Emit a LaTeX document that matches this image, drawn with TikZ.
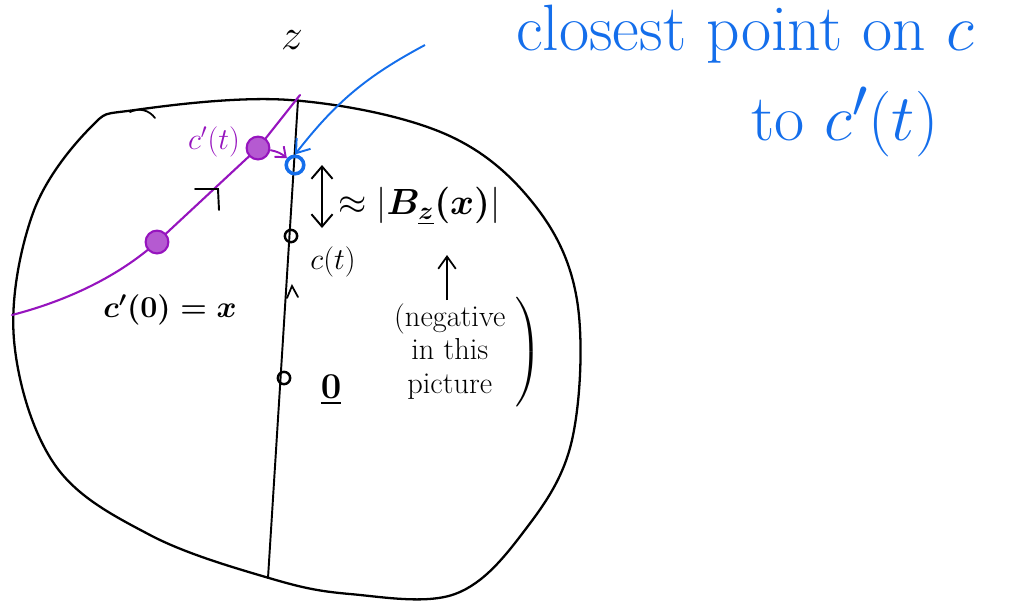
\documentclass[tikz,border=0pt]{standalone}
\usepackage{amsmath,amssymb}
\usepackage{tikz}
\usetikzlibrary{arrows.meta, positioning, calc}
\definecolor{curvepurple}{RGB}{150,20,190}
\definecolor{noteblue}{RGB}{20,110,235}
\newcommand{\bignote}[1]{\scalebox{1.5}{\Huge #1}}

\begin{document}
\begin{tikzpicture}[
    x=0.02cm, y=-0.02cm,
    outline/.style={line width=1.3pt, black, line cap=round},
    pcurve/.style={line width=1.2pt, curvepurple, line cap=round},
    pdot/.style={circle, draw=curvepurple, fill=curvepurple!70, line width=1.2pt, inner sep=0pt, minimum size=13pt},
    bdot/.style={circle, draw=noteblue, line width=2pt, inner sep=0pt, minimum size=10pt},
    kdot/.style={circle, draw=black, line width=1.4pt, inner sep=0pt, minimum size=7pt},
    lab/.style={font=\huge, inner sep=1pt},
    note/.style={text=noteblue, inner sep=0pt},
    arr/.style={-{Straight Barb[length=7pt, width=10pt]}, line width=1.1pt},
]
    \useasboundingbox (0,0) rectangle (1025,603);

    % region
    \draw[outline] plot[smooth cycle, tension=0.6] coordinates {
        (135,110) (290,100) (443,133) (533,203) (577,300) (572,440)
        (525,530) (455,594) (350,594) (269,578) (150,535) (55,465)
        (14,340) (33,213) (90,128)};
    \draw[outline, line width=1pt] (130,112) to[bend left=40] (155,118);

    % axis
    \coordinate (ztop) at (298,100);
    \coordinate (zbot) at (268,578);
    \draw[outline, line width=1.1pt] (ztop) -- (zbot);
    \node[lab, font=\Huge] (zlab) at (292,40) {$z$};

    \node[kdot] (ct) at (291,236) {};
    \node[kdot] (orig) at (284,378) {};
    \draw[outline, line width=1pt] (287,298) -- (292,286) -- (298,297);
    \node[lab, font=\LARGE] (ctlab) at (333,262) {$c(t)$};
    \node[lab, font=\huge\bfseries] (olab) at (331,390) {$\underline{\boldsymbol{0}}$};

    % purple curve c'
    \draw[pcurve] (12,315) .. controls (70,300) and (120,275) .. (157,242)
        -- (258,148) -- (300,95);
    \node[pdot] (cstart) at (157,242) {};
    \node[pdot] (cnow) at (258,148) {};
    \node[lab, text=curvepurple, font=\LARGE] (cnowlab) at (214,142) {$c'(t)$};
    \node[lab, font=\LARGE\bfseries] (cstartlab) at (170,310) {$\boldsymbol{c'(0)=x}$};
    \draw[outline, line width=1.1pt] (195,189) -- (218,189) -- (219,210);

    % closest point
    \node[bdot] (close) at (295,165) {};
    \draw[curvepurple, line width=1.1pt, -{Straight Barb[length=5pt, width=8pt]}]
        (cnow) to[bend left=15] (close);
    \node[note] (closelab) at (745,34) {\bignote{closest point on $c$}};
    \node[note] (tolab) at (845,122) {\bignote{to $c'(t)$}};
    \draw[noteblue, line width=1.3pt, arr] (425,45) to[bend right=12] (close.north);

    % distance
    \coordinate (dtop) at (322,165);
    \coordinate (dbot) at (322,228);
    \draw[arr, {Straight Barb[length=7pt, width=12pt]}-{Straight Barb[length=7pt, width=12pt]}] (dtop) -- (dbot);
    \node[lab, font=\huge, anchor=west] (blab) at (336,206) {$\approx\lvert\boldsymbol{B_{\underline{z}}(x)}\rvert$};

    % remark
    \node[font=\LARGE, align=center, inner sep=0pt] (neglab) at (462,352)
        {$\left.\begin{tabular}{c}(negative\\[-3pt] in this\\[-3pt] picture\end{tabular}\right)$};
    \draw[arr, line width=1pt] (447,300) coordinate (nb) -- (447,255);
\end{tikzpicture}
\end{document}
